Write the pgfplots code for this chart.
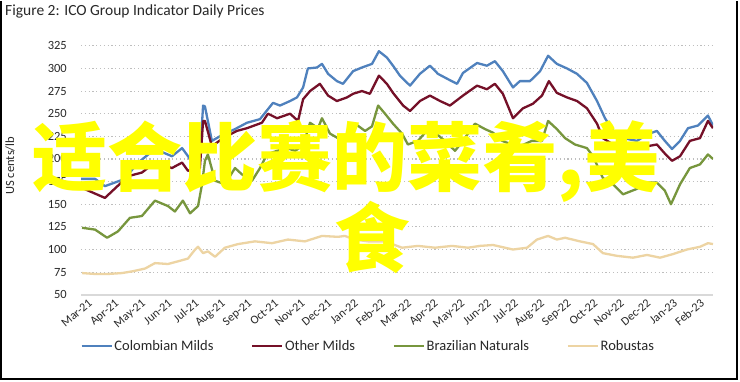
\documentclass[border=0pt]{standalone}
\usepackage{pgfplots}
\pgfplotsset{compat=1.18}
\usepackage{fontspec}
\setmainfont{Carlito}
\newfontfamily\cjk{Noto Sans CJK SC}
\definecolor{cmblue}{RGB}{79,129,189}
\definecolor{omred}{RGB}{117,16,40}
\definecolor{bngreen}{RGB}{119,150,61}
\definecolor{rbtan}{RGB}{237,212,163}
\definecolor{gridgray}{RGB}{190,190,190}
\definecolor{basegray}{RGB}{217,217,217}
\definecolor{txtgray}{RGB}{40,40,40}
\begin{document}
\begin{tikzpicture}[x=1pt,y=1pt]
\path[fill=white] (0,0) rectangle (740,381);
\draw[line width=1.6pt] (1,381) -- (1,3) -- (737,3) -- (737,381);
\node[anchor=north west, font=\fontsize{15.5}{17}\selectfont, inner sep=0pt, text=txtgray] at (5,377) {Figure 2: ICO Group Indicator Daily Prices};
\node[rotate=90, font=\fontsize{12.5}{14}\selectfont, text=txtgray] at (10,216) {US cents/lb};
\begin{axis}[
  at={(81pt,87pt)}, anchor=south west, scale only axis,
  width=632pt, height=249pt,
  xmin=0, xmax=23.76, ymin=50, ymax=325,
  axis line style={draw=none},
  major tick length=0pt,
  ytick={75,100,...,325},
  extra y ticks={50},
  extra y tick style={ymajorgrids=true, major grid style={solid, basegray, line width=2pt}},
  ymajorgrids,
  major grid style={gridgray, line width=1.1pt, dash pattern=on 1.2pt off 2.6pt},
  xtick={0,...,23},
  xticklabels={Mar-21,Apr-21,May-21,Jun-21,Jul-21,Aug-21,Sep-21,Oct-21,Nov-21,Dec-21,Jan-22,Feb-22,Mar-22,Apr-22,May-22,Jun-22,Jul-22,Aug-22,Sep-22,Oct-22,Nov-22,Dec-22,Jan-23,Feb-23},
  /pgf/number format/assume math mode=true,
  yticklabel style={font=\fontsize{12.5}{14}\selectfont, text=txtgray, anchor=east, inner sep=0pt, xshift=-14pt},
  xticklabel style={font=\fontsize{12}{14}\selectfont, text=txtgray, rotate=40, anchor=north east, inner sep=0pt, xshift=3pt, yshift=-7pt},
  legend columns=4,
  legend style={at={(axis description cs:0.454,-0.205)}, anchor=center, draw=none, fill=none,
    font=\fontsize{14.5}{16}\selectfont, text=txtgray, nodes={inner sep=1.5pt},
    /tikz/every even column/.append style={column sep=36pt}},
  legend image code/.code={\draw[#1, line width=2.6pt] (0pt,0pt) -- (30pt,0pt);},
  every axis plot/.append style={line width=2.3pt, line join=round},
]
\addplot[cmblue] coordinates {
(0,178)(0.53,178)(0.9,170)(1.65,178)(2.11,195)(2.78,211)(3.42,203)(3.8,212)(4.1,200)(4.47,201)(4.59,259)(4.66,258)(4.92,220)(5.34,227)(5.79,233)(6.24,240)(6.73,244)(7.22,262)(7.48,259)(7.86,264)(8.12,268)(8.35,279)(8.53,300)(8.87,301)(9.06,305)(9.29,294)(9.62,286)(9.85,283)(10.23,297)(10.56,301)(10.94,305)(11.2,319)(11.5,312)(11.73,303)(11.99,292)(12.37,281)(12.74,294)(13.12,303)(13.42,294)(13.87,287)(14.14,283)(14.36,295)(14.89,306)(15.26,303)(15.56,308)(15.86,297)(16.24,279)(16.5,286)(16.88,286)(17.26,297)(17.56,314)(17.89,305)(18.27,300)(18.65,294)(19.02,284)(19.4,264)(19.7,245)(20,231)(20.38,223)(20.9,220)(21.28,227)(21.65,231)(21.95,220)(22.22,211)(22.52,220)(22.82,234)(23.2,237)(23.57,248)(23.76,237)};
\addlegendentry{Colombian Milds}
\addplot[omred] coordinates {
(0.04,168)(0.9,157)(1.77,181)(2.29,185)(2.78,196)(3.42,190)(3.8,196)(4.02,187)(4.47,190)(4.59,242)(4.66,242)(4.92,214)(5.34,223)(5.86,231)(6.24,234)(6.8,240)(7.03,250)(7.37,245)(7.86,250)(8.16,242)(8.35,266)(8.61,275)(8.98,283)(9.29,270)(9.62,264)(10.0,268)(10.23,272)(10.56,275)(10.86,272)(11.2,292)(11.5,283)(11.73,273)(12.11,259)(12.37,253)(12.74,264)(13.12,270)(13.5,264)(13.87,259)(14.36,270)(14.89,281)(15.26,277)(15.56,283)(15.86,272)(16.24,245)(16.62,256)(16.99,261)(17.33,270)(17.59,286)(17.89,273)(18.27,268)(18.65,264)(19.02,256)(19.4,239)(19.62,223)(20.0,216)(20.38,214)(20.9,216)(21.28,214)(21.65,216)(21.95,206)(22.22,198)(22.52,203)(22.89,220)(23.27,223)(23.57,242)(23.76,234)};
\addlegendentry{Other Milds}
\addplot[bngreen] coordinates {
(0.04,124)(0.53,122)(0.98,113)(1.39,120)(1.84,135)(2.29,137)(2.78,154)(3.27,148)(3.53,142)(3.83,154)(4.1,140)(4.4,148)(4.55,172)(4.66,198)(4.77,205)(5.04,176)(5.41,172)(5.79,190)(6.05,183)(6.43,176)(6.73,190)(6.99,205)(7.37,209)(7.74,212)(8.05,209)(8.35,215)(8.61,240)(8.91,234)(9.06,245)(9.36,228)(9.66,223)(9.92,223)(10.3,239)(10.68,231)(10.94,236)(11.17,259)(11.43,250)(11.73,239)(12.07,228)(12.29,216)(12.67,220)(13.05,233)(13.31,229)(13.68,220)(14.06,209)(14.36,220)(14.81,239)(15.19,233)(15.49,229)(15.83,220)(16.2,216)(16.5,214)(16.95,220)(17.33,220)(17.56,242)(17.89,233)(18.2,223)(18.57,216)(19.02,212)(19.25,203)(19.62,179)(20.0,172)(20.38,161)(20.9,167)(21.28,174)(21.65,174)(21.95,165)(22.18,150)(22.52,172)(22.89,190)(23.27,194)(23.57,205)(23.76,200)};
\addlegendentry{Brazilian Naturals}
\addplot[rbtan] coordinates {
(0.04,74)(0.53,73)(1.02,73)(1.54,74)(1.95,76)(2.41,79)(2.78,85)(3.27,84)(3.65,87)(4.02,90)(4.29,100)(4.4,103)(4.59,96)(4.77,98)(5.04,92)(5.41,102)(5.9,106)(6.54,109)(7.18,107)(7.78,111)(8.42,109)(9.06,115)(9.66,114)(9.92,115)(10.3,111)(10.79,109)(11.43,109)(12.07,102)(12.67,104)(13.31,102)(13.95,104)(14.55,102)(15.0,104)(15.49,105)(16.24,100)(16.77,102)(17.14,111)(17.56,115)(17.89,111)(18.2,113)(18.76,109)(19.25,106)(19.62,96)(20.15,93)(20.75,91)(21.28,94)(21.77,91)(22.26,95)(22.78,100)(23.27,103)(23.57,107)(23.76,106)};
\addlegendentry{Robustas}
\end{axis}
\node[font={\cjk\bfseries\fontsize{75}{75}\selectfont}, text={rgb,255:red,255;green,255;blue,0}, inner sep=0pt] at (346,220) {适合比赛的菜肴,美};
\node[font={\cjk\bfseries\fontsize{75}{75}\selectfont}, text={rgb,255:red,255;green,255;blue,0}, inner sep=0pt] at (372,144) {食};
\end{tikzpicture}
\end{document}
